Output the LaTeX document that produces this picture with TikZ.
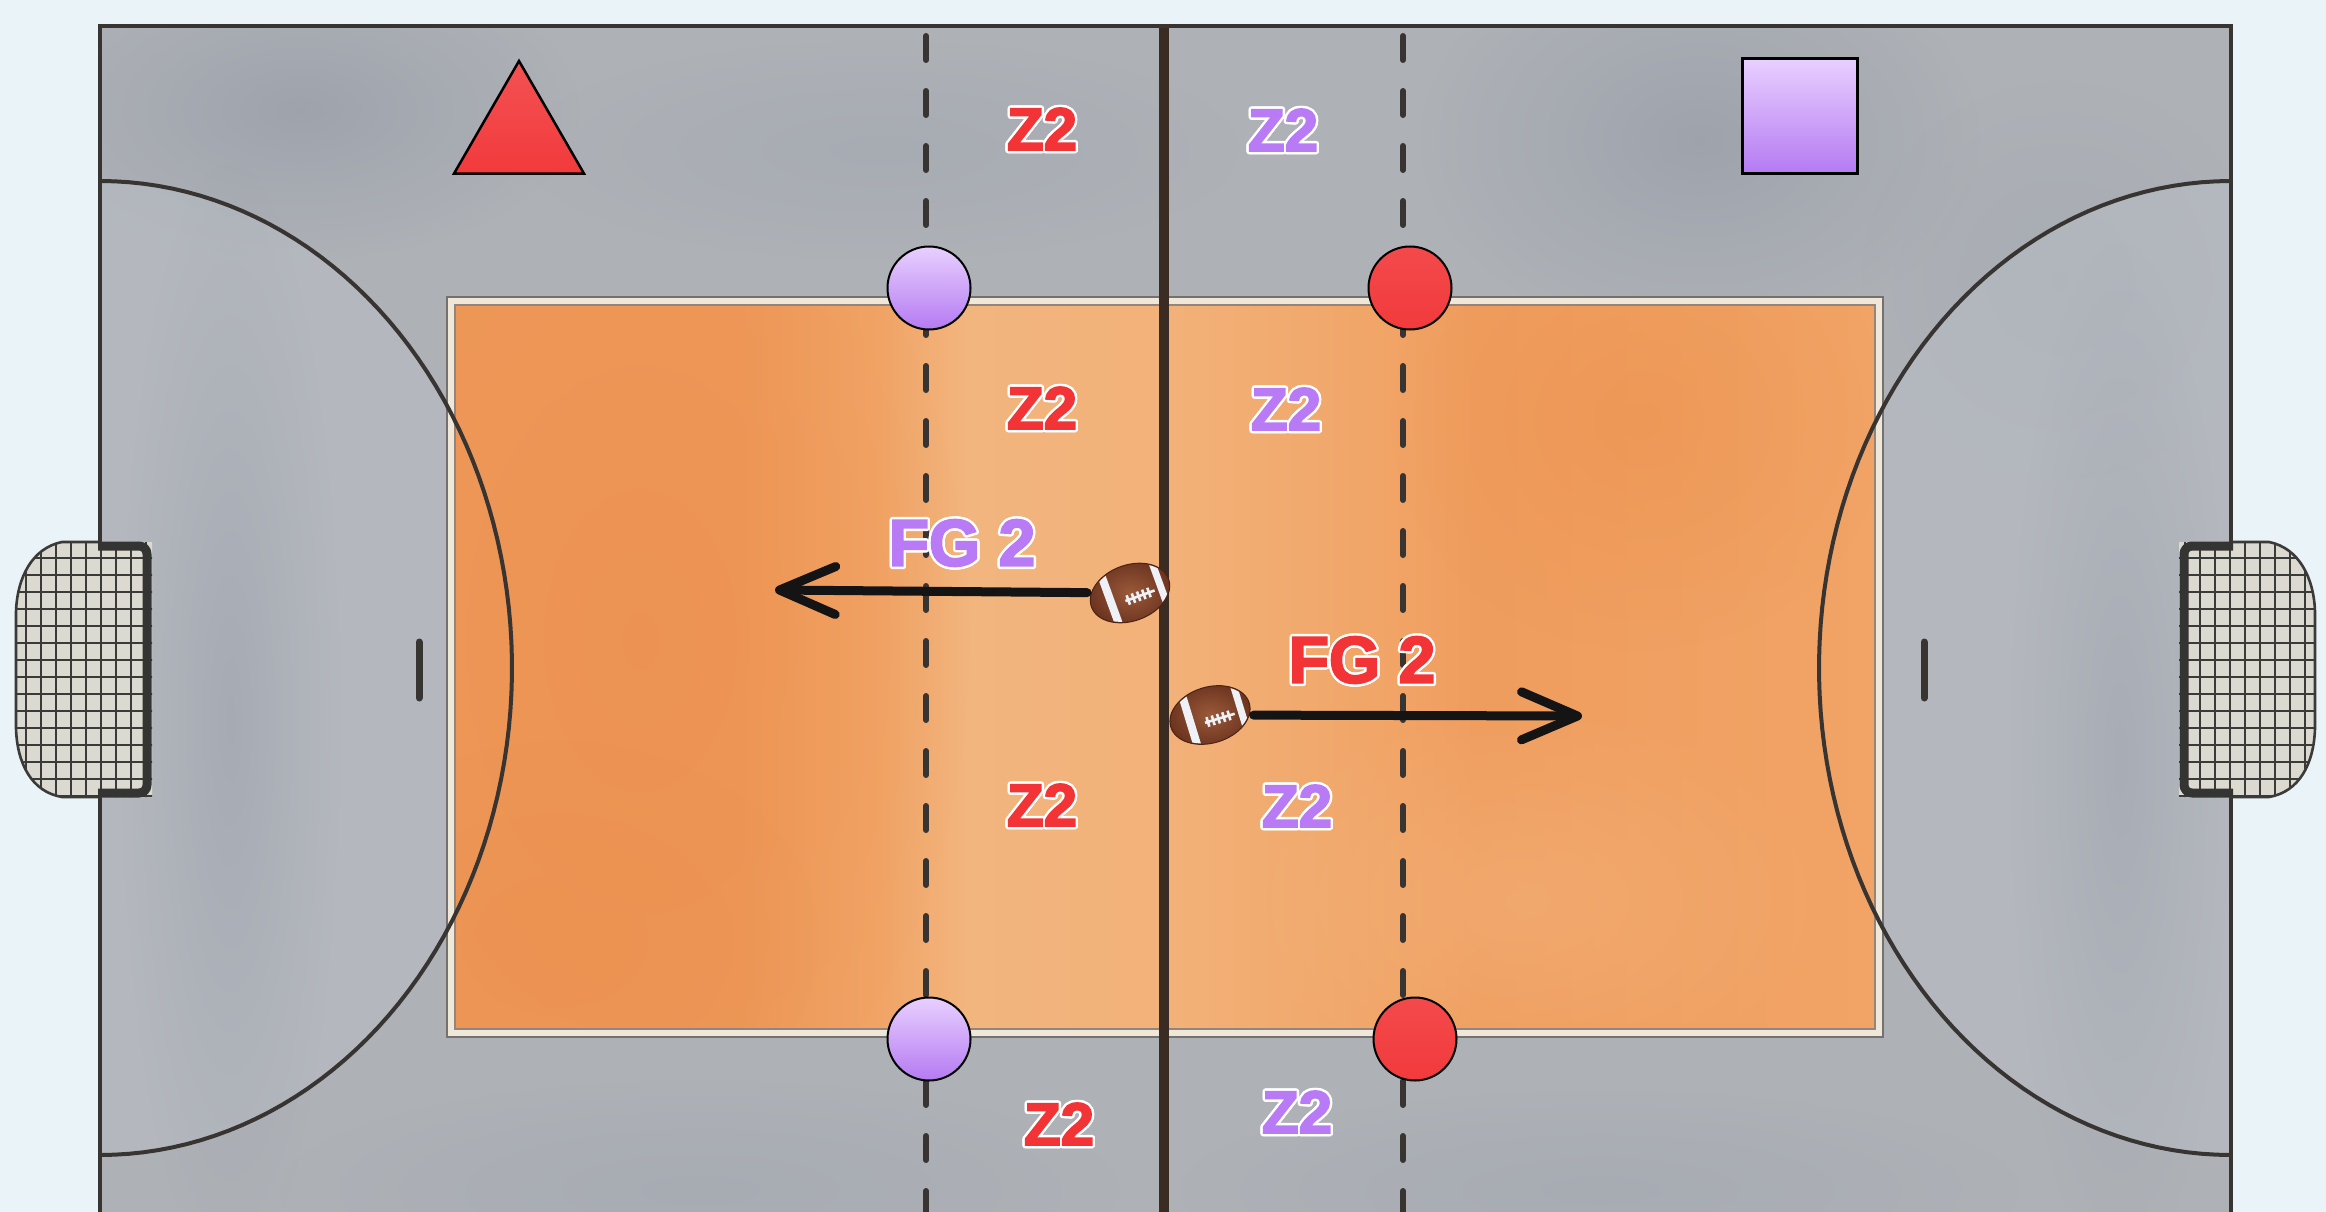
\documentclass[tikz,border=0pt]{standalone}
\usepackage{fontspec}
\setmainfont{Liberation Sans}
\newfontfamily\redface{Liberation Sans}[Color=F23436, FakeBold=3]
\newfontfamily\lilacface{Liberation Sans}[Color=B87BF5, FakeBold=3]
\newfontfamily\rimface{Liberation Sans}[Color=FFFFFF, FakeBold=3]
\usetikzlibrary{shapes.geometric,arrows.meta,fadings}

\definecolor{paper}{HTML}{EAF3F7}
\definecolor{hallgray}{HTML}{AEB2B7}
\definecolor{hallpale}{HTML}{B9BEC5}
\definecolor{hallshade}{HTML}{9296A3}
\definecolor{hallmid}{HTML}{A0A4AE}
\definecolor{ink}{HTML}{383432}
\definecolor{midink}{HTML}{3A2C22}
\definecolor{woodink}{HTML}{4A3426}
\definecolor{courtline}{HTML}{EFE7D8}
\definecolor{woodA}{HTML}{EE9859}
\definecolor{woodB}{HTML}{F2B57E}
\definecolor{woodC}{HTML}{F1A466}
\definecolor{wooddeep}{HTML}{EA8A45}
\definecolor{woodpale}{HTML}{F4B47C}
\definecolor{teamred}{HTML}{F23A3C}
\definecolor{teampurple}{HTML}{B57AF2}
\definecolor{lilac}{HTML}{E8D0FF}
\definecolor{leather}{HTML}{6A321E}
\definecolor{leatherlit}{HTML}{9A5A3A}
\definecolor{lace}{HTML}{EEF2F7}
\definecolor{netback}{HTML}{DCD9D1}
\definecolor{netink}{HTML}{3A3A38}

% wooden floor: the path covers 25bp..75bp of the shading
\pgfdeclarehorizontalshading{woodfloor}{100bp}{%
  color(0bp)=(woodA); color(25bp)=(woodA); color(35bp)=(woodA);
  color(40bp)=(woodC); color(43bp)=(woodB); color(50bp)=(woodB!80!woodC);
  color(58bp)=(woodC); color(61bp)=(woodA!60!woodC); color(75bp)=(woodC);
  color(100bp)=(woodC)}

\tikzfading[name=soft blob, inner color=transparent!0, outer color=transparent!100]

% text with a white rim
\newsavebox\lblbox
\newsavebox\rimbox
\newcommand\outlinedtext[2]{%
  \sbox\rimbox{\rimface\bfseries #2}%
  \sbox\lblbox{#1\bfseries #2}%
  \rlap{\smash{%
    \foreach \hx/\hy in {2.4/0,2.22/0.92,1.7/1.7,0.92/2.22,0/2.4,-0.92/2.22,-1.7/1.7,-2.22/0.92,-2.4/0,-2.22/-0.92,-1.7/-1.7,-0.92/-2.22,0/-2.4,0.92/-2.22,1.7/-1.7,2.22/-0.92}%
      {\rlap{\hspace*{\hx pt}\raisebox{\hy pt}{\usebox\rimbox}}}}}%
  \usebox\lblbox}

% goal net, drawn for the left side
\newcommand\goalnet{%
  \begin{scope}
    \clip (152,542) -- (62,542) .. controls (32,548) and (17,578) .. (16,612)
      -- (16,728) .. controls (17,764) and (32,792) .. (62,797) -- (152,797) -- cycle;
    \fill[netback] (0,530) rectangle (160,810);
    \foreach \gx in {26,41,...,150} \draw[netink, line width=2.2] (\gx,530) -- (\gx,810);
    \foreach \gy in {558,575,...,796} \draw[netink, line width=2.2] (0,\gy) -- (160,\gy);
  \end{scope}
  \draw[netink, line width=2.6] (100,542) -- (62,542) .. controls (32,548) and (17,578) .. (16,612)
      -- (16,728) .. controls (17,764) and (32,792) .. (62,797) -- (100,797);
  \draw[netink!90!black, line width=9, rounded corners=8, line join=round]
      (98,546) -- (147,546) -- (147,793) -- (98,793);
}

% leather details of a ball, in the ball's own frame
\newcommand\balldetail[2]{%
  \begin{scope}[shift={(#1.center)}, rotate=#2]
    \clip (0,0) ellipse [x radius=40, y radius=27];
    \draw[lace, line width=8] (-21,-30) -- (-21,30);
    \draw[lace, line width=7] (31,-30) -- (31,30);
    \draw[lace, line width=2.6] (-7,6) -- (24,6);
    \foreach \lu in {-4,1.5,...,23} \draw[lace, line width=2.6] (\lu,1) -- (\lu,11);
  \end{scope}
}

\begin{document}
\begin{tikzpicture}[x=1pt, y=-1pt,
  hallline/.style={ink, line width=4},
  zoneline/.style={ink, line width=6, dash pattern=on 24pt off 31pt, line cap=round},
  disc/.style={circle, minimum size=83, inner sep=0, draw=black, line width=2},
  lilacdisc/.style={disc, top color=lilac, bottom color=teampurple},
  reddisc/.style={disc, top color=teamred!92!white, bottom color=teamred},
  football/.style={ellipse, minimum width=82, minimum height=56, inner sep=0,
    draw=leather!70!black, line width=1, shading=radial, inner color=leatherlit, outer color=leather},
  throwline/.style={line width=9, black!92, line cap=round, shorten <=4,
    -{Straight Barb[length=56pt, width=48pt, line join=round, line cap=round]}},
  lbl/.style={inner sep=0, font=\fontsize{60pt}{60pt}\selectfont},
  fglbl/.style={inner sep=0, font=\fontsize{66pt}{66pt}\selectfont}]

\useasboundingbox (0,0) rectangle (2326,1212);
\clip (0,0) rectangle (2326,1212);
\fill[paper] (0,0) rectangle (2326,1212);

% hall floor with watercolour patches
\fill[hallgray] (100,26) rectangle (2231,1240);
\begin{scope}
  \clip (100,26) rectangle (2231,1240);
  \fill[hallshade, path fading=soft blob, fill opacity=0.55] (300,110) ellipse [x radius=280, y radius=150];
  \fill[hallmid, path fading=soft blob, fill opacity=0.5] (880,150) ellipse [x radius=360, y radius=110];
  \fill[hallshade, path fading=soft blob, fill opacity=0.55] (1700,140) ellipse [x radius=280, y radius=200];
  \fill[hallmid, path fading=soft blob, fill opacity=0.45] (2060,280) ellipse [x radius=200, y radius=200];
  \fill[hallmid, path fading=soft blob, fill opacity=0.5] (700,1190) ellipse [x radius=420, y radius=110];
  \fill[hallmid, path fading=soft blob, fill opacity=0.5] (1600,1190) ellipse [x radius=420, y radius=100];
  % goal areas
  \fill[hallpale, fill opacity=0.55] plot[domain=-90:90, samples=90] ({100+412*cos(\x)},{668+487*sin(\x)}) -- cycle;
  \fill[hallpale, fill opacity=0.55] plot[domain=90:270, samples=90] ({2231+412*cos(\x)},{668+487*sin(\x)}) -- cycle;
  \fill[hallshade, path fading=soft blob, fill opacity=0.4] (230,720) ellipse [x radius=110, y radius=560];
  \fill[hallshade, path fading=soft blob, fill opacity=0.35] (2120,760) ellipse [x radius=110, y radius=520];
\end{scope}

% playing court
\fill[ink!70] (446,296) rectangle (1884,1038);
\fill[courtline] (448,298) rectangle (1882,1036);
\shade[shading=woodfloor] (455,305) rectangle (1875,1029);
\begin{scope}
  \clip (455,305) rectangle (1875,1029);
  \fill[wooddeep, path fading=soft blob, fill opacity=0.3] (640,640) ellipse [x radius=330, y radius=520];
  \fill[wooddeep, path fading=soft blob, fill opacity=0.35] (1640,420) ellipse [x radius=250, y radius=230];
  \fill[woodpale, path fading=soft blob, fill opacity=0.5] (1520,900) ellipse [x radius=320, y radius=200];
  \fill[wooddeep, path fading=soft blob, fill opacity=0.25] (560,940) ellipse [x radius=260, y radius=200];
\end{scope}
\draw[woodink!60, line width=1.2] (455,305) rectangle (1875,1029);

% court markings
\draw[hallline] plot[domain=-90:90, samples=90] ({100+412*cos(\x)},{668+487*sin(\x)});
\draw[hallline] plot[domain=90:270, samples=90] ({2231+412*cos(\x)},{668+487*sin(\x)});
\draw[ink, line width=7, line cap=round] (419,642) -- (419,698);
\draw[ink, line width=7, line cap=round] (1924,642) -- (1924,698);
\draw[zoneline] (926,36) -- (926,1212);
\draw[zoneline] (1403,36) -- (1403,1212);
\draw[midink, line width=10] (1164,26) -- (1164,1240);
\draw[ink, line width=3.5] (100,1240) -- (100,26) -- (2231,26) -- (2231,1240);

% goals
\goalnet
\begin{scope}[xshift=2331pt, xscale=-1]
  \goalnet
\end{scope}

% cones and players
\node[regular polygon, regular polygon sides=3, minimum size=150, inner sep=0,
      draw=black, line width=2.5, top color=teamred!88!white, bottom color=teamred] (redcone) at (519,136) {};
\node[minimum size=115, inner sep=0, draw=black, line width=3,
      top color=lilac, bottom color=teampurple] (lilacbox) at (1800,116) {};
\node[lilacdisc] (pa) at (929,288) {};
\node[lilacdisc] (pb) at (929,1039) {};
\node[reddisc] (ra) at (1410,288) {};
\node[reddisc] (rb) at (1415,1039) {};

% balls and passes
\node[football, rotate=20] (ball1) at (1130,593) {};
\node[football, rotate=17] (ball2) at (1210,715) {};
\balldetail{ball1}{20}
\balldetail{ball2}{17}
\coordinate (aimL) at (775,590);
\coordinate (aimR) at (1582,716);
\draw[throwline] (ball1) -- (aimL);
\draw[throwline] (ball2) -- (aimR);

% zone labels
\node[lbl] (zr1) at (1042,129) {\outlinedtext{\redface}{Z2}};
\node[lbl] (zr2) at (1042,408) {\outlinedtext{\redface}{Z2}};
\node[lbl] (zr3) at (1042,805) {\outlinedtext{\redface}{Z2}};
\node[lbl] (zr4) at (1059,1124) {\outlinedtext{\redface}{Z2}};
\node[lbl] (zp1) at (1283,130) {\outlinedtext{\lilacface}{Z2}};
\node[lbl] (zp2) at (1286,409) {\outlinedtext{\lilacface}{Z2}};
\node[lbl] (zp3) at (1297,806) {\outlinedtext{\lilacface}{Z2}};
\node[lbl] (zp4) at (1297,1112) {\outlinedtext{\lilacface}{Z2}};
\node[fglbl] (fgp) at (962,543) {\outlinedtext{\lilacface}{FG 2}};
\node[fglbl] (fgr) at (1362,660) {\outlinedtext{\redface}{FG 2}};

\end{tikzpicture}
\end{document}
